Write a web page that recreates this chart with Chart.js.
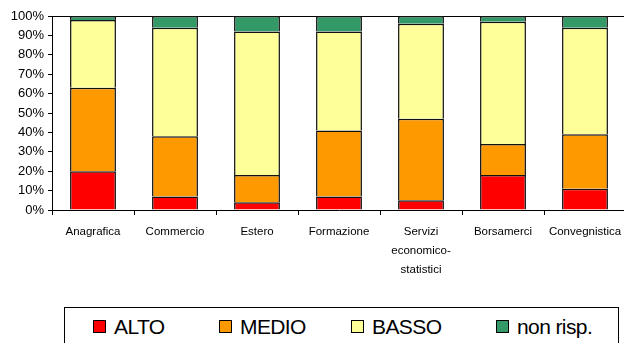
<!DOCTYPE html>
<html>
<head>
<meta charset="utf-8">
<script src="https://cdn.jsdelivr.net/npm/chart.js@4/dist/chart.umd.min.js"></script>
<style>
  html, body { margin: 0; padding: 0; background: #fff; overflow: hidden; }
  #wrap { position: relative; width: 626px; height: 300px; }
  #legenda {
    position: absolute; left: 64px; top: 307px; width: 555px; height: 40px;
    border: 1px solid #000; box-sizing: border-box;
    font-family: "Liberation Sans", Arial, sans-serif; font-size: 21px; color: #000;
  }
  .voce { position: absolute; top: 7px; white-space: nowrap; letter-spacing: -0.6px; }
  .voce i {
    display: inline-block; width: 11px; height: 11px; border: 1px solid #000;
    margin-right: 8px; vertical-align: 1px;
  }
</style>
</head>
<body>
<div id="wrap"><canvas id="graficaLivelli" width="626" height="300"></canvas></div>
<div id="legenda"></div>
<script>
const categorie = ['Anagrafica', 'Commercio', 'Estero', 'Formazione',
  ['Servizi', 'economico-', 'statistici'], 'Borsamerci', 'Convegnistica'];

const alto   = [20,  7,  4,  7,  5, 18, 11];
const medio  = [43, 31, 14, 34, 42, 16, 28];
const basso  = [35, 56, 74, 51, 49, 63, 55];
const nonRisp = [2,  6,  8,  8,  4,  3,  6];

const tickY = [0, 10, 20, 30, 40, 50, 60, 70, 80, 90, 100];

const serie = [
  { label: 'ALTO', data: alto, colore: '#ff0000' },
  { label: 'MEDIO', data: medio, colore: '#ff9900' },
  { label: 'BASSO', data: basso, colore: '#ffff99' },
  { label: 'non risp.', data: nonRisp, colore: '#339966' }
];

const font = { family: '"Liberation Sans", Arial, sans-serif' };

const ctx = document.getElementById('graficaLivelli').getContext('2d');
const chart = new Chart(ctx, {
  type: 'bar',
  data: {
    labels: categorie,
    datasets: serie.map(s => ({
      label: s.label,
      data: s.data,
      backgroundColor: s.colore,
      borderColor: '#111',
      borderWidth: 1.5,
      barPercentage: 0.56,
      categoryPercentage: 1
    }))
  },
  options: {
    responsive: false,
    animation: false,
    layout: { padding: { top: 16, left: 0, right: 0, bottom: 0 } },
    plugins: { legend: { display: false }, tooltip: { enabled: false } },
    scales: {
      x: {
        stacked: true,
        grid: { drawOnChartArea: false, color: '#000', tickLength: 5, offset: true },
        border: { color: '#000', width: 1 },
        ticks: {
          color: '#000', maxRotation: 0, autoSkip: false, padding: 7,
          font: { ...font, size: 11.5, lineHeight: 1.65 }
        },
        afterFit: s => { s.height = 90; s.paddingLeft = 0; s.paddingRight = 0; }
      },
      x2: {
        type: 'category',
        position: 'top',
        grid: { display: false },
        ticks: { display: false },
        border: { color: '#000', width: 1 },
        afterFit: s => { s.height = 0; s.paddingLeft = 0; s.paddingRight = 0; }
      },
      y: {
        stacked: true,
        min: 0,
        max: 100,
        afterBuildTicks: s => { s.ticks = tickY.map(v => ({ value: v })); },
        grid: { drawOnChartArea: false, color: '#000', tickLength: 4 },
        border: { color: '#000', width: 1 },
        ticks: {
          color: '#000', padding: 4,
          font: { ...font, size: 13 },
          callback: v => v + '%'
        },
        afterFit: s => { s.width = 52; s.paddingTop = 0; s.paddingBottom = 0; }
      }
    }
  }
});

// legenda con i riquadri colorati
const posizioni = [28, 154, 286, 431];
const legenda = document.getElementById('legenda');
serie.forEach((s, i) => {
  const voce = document.createElement('span');
  voce.className = 'voce';
  voce.style.left = posizioni[i] + 'px';
  voce.innerHTML = '<i style="background:' + s.colore + '"></i>' + s.label;
  legenda.appendChild(voce);
});
</script>
</body>
</html>
